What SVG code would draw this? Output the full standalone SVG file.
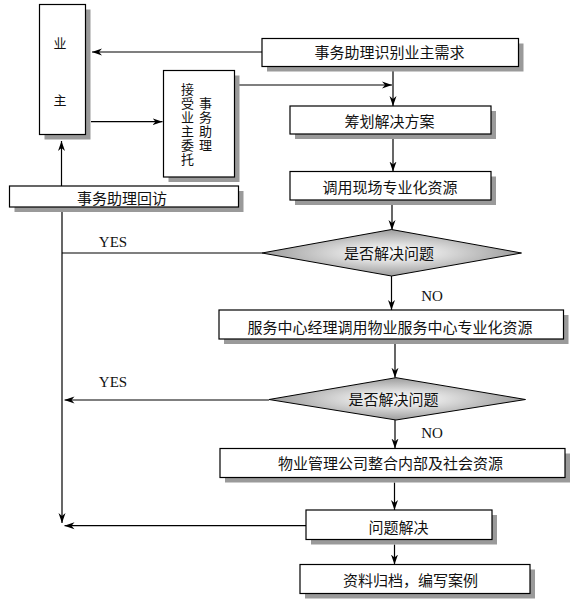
<svg xmlns="http://www.w3.org/2000/svg" width="577" height="609" viewBox="0 0 577 609">
<defs>
<marker id="arr" markerUnits="userSpaceOnUse" markerWidth="10" markerHeight="8" refX="10" refY="4" orient="auto">
<path d="M0,0.5 L10,4 L0,7.5 L3,4 Z" fill="#000"/>
</marker>
<radialGradient id="dg" cx="0.5" cy="0.5" r="0.5">
<stop offset="0" stop-color="#fbfbfb"/>
<stop offset="0.35" stop-color="#e2e2e2"/>
<stop offset="1" stop-color="#9c9c9c"/>
</radialGradient>
</defs>
<style>
.box{fill:#fff;stroke:#000;stroke-width:1.2}
.sh{fill:#9a9a9a}
.dia{fill:url(#dg);stroke:#000;stroke-width:1}
.t{font-family:"Noto Sans CJK SC","Noto Sans",sans-serif;font-size:15px;fill:#111;text-anchor:middle}
.tv{font-family:"Noto Sans CJK SC","Noto Sans",sans-serif;font-size:13px;fill:#111;text-anchor:middle}
.vert{writing-mode:vertical-rl;letter-spacing:1px}
.l{font-family:"Liberation Serif",serif;font-size:15px;fill:#111;text-anchor:middle}
.c{fill:none;stroke:#000;stroke-width:1.2}
</style>
<rect width="577" height="609" fill="#fff"/>

<g id="connectors">
<line class="c" x1="262" y1="52" x2="92" y2="52" marker-end="url(#arr)"/>
<line class="c" x1="91" y1="121.7" x2="162.5" y2="121.7" marker-end="url(#arr)"/>
<line class="c" x1="239" y1="85" x2="392" y2="85" marker-end="url(#arr)"/>
<line class="c" x1="393" y1="71" x2="393" y2="106" marker-end="url(#arr)"/>
<line class="c" x1="393" y1="139" x2="393" y2="171.5" marker-end="url(#arr)"/>
<line class="c" x1="392" y1="205" x2="392" y2="230" marker-end="url(#arr)"/>
<line class="c" x1="61.5" y1="186" x2="61.5" y2="141" marker-end="url(#arr)"/>
<line class="c" x1="62" y1="212" x2="62" y2="523" marker-end="url(#arr)"/>
<line class="c" x1="262" y1="253" x2="62" y2="253"/>
<line class="c" x1="391.5" y1="276" x2="391.5" y2="310" marker-end="url(#arr)"/>
<line class="c" x1="395" y1="344" x2="395" y2="377.7" marker-end="url(#arr)"/>
<line class="c" x1="269" y1="400" x2="64.5" y2="400" marker-end="url(#arr)"/>
<line class="c" x1="395" y1="420" x2="395" y2="448.5" marker-end="url(#arr)"/>
<line class="c" x1="394.5" y1="482.5" x2="394.5" y2="510" marker-end="url(#arr)"/>
<line class="c" x1="306" y1="525.7" x2="64.5" y2="525.7" marker-end="url(#arr)"/>
<line class="c" x1="394.5" y1="544.5" x2="394.5" y2="564.5" marker-end="url(#arr)"/>
</g>

<g id="n-owner">
<rect class="sh" x="44.5" y="9.5" width="46" height="130"/>
<rect class="box" x="39.5" y="4.5" width="46" height="130"/>
<text class="tv" x="60" y="47.5">业</text>
<text class="tv" x="60" y="105">主</text>
</g>

<g id="n-identify">
<rect class="sh" x="267" y="43.5" width="256.5" height="28"/>
<rect class="box" x="262" y="38.5" width="256.5" height="28"/>
<text class="t" x="389.5" y="58">事务助理识别业主需求</text>
</g>

<g id="n-accept">
<rect class="sh" x="168.5" y="75.5" width="71" height="106.5"/>
<rect class="box" x="163.5" y="70.5" width="71" height="106.5"/>
<text class="tv vert" x="187.5" y="125">接受业主委托</text>
<text class="tv vert" x="205.5" y="125">事务助理</text>
</g>

<g id="n-plan">
<rect class="sh" x="295" y="111" width="201" height="28"/>
<rect class="box" x="290" y="106" width="201" height="28"/>
<text class="t" x="389.5" y="127">筹划解决方案</text>
</g>

<g id="n-onsite">
<rect class="sh" x="295" y="176.5" width="201" height="28.5"/>
<rect class="box" x="290" y="171.5" width="201" height="28.5"/>
<text class="t" x="390" y="193">调用现场专业化资源</text>
</g>

<g id="n-revisit">
<rect class="sh" x="14.5" y="191" width="229" height="21"/>
<rect class="box" x="9.5" y="186" width="229" height="21"/>
<text class="t" x="122" y="203.5">事务助理回访</text>
</g>

<g id="n-decide1">
<polygon class="dia" points="262,253 391.5,229.5 521.5,253 391.5,276"/>
<text class="t" x="389" y="259">是否解决问题</text>
<text class="l" x="113" y="247">YES</text>
<text class="l" x="432" y="300.5">NO</text>
</g>

<g id="n-center">
<rect class="sh" x="224" y="315" width="344.5" height="29"/>
<rect class="box" x="219" y="310" width="344.5" height="29"/>
<text class="t" x="390" y="332.5">服务中心经理调用物业服务中心专业化资源</text>
</g>

<g id="n-decide2">
<polygon class="dia" points="269,399.5 396,377.7 525.5,399.5 396,420"/>
<text class="t" x="393.6" y="405">是否解决问题</text>
<text class="l" x="113" y="386.5">YES</text>
<text class="l" x="432" y="438">NO</text>
</g>

<g id="n-company">
<rect class="sh" x="225" y="453.5" width="345" height="29"/>
<rect class="box" x="220" y="448.5" width="345" height="29"/>
<text class="t" x="390.5" y="468.5">物业管理公司整合内部及社会资源</text>
</g>

<g id="n-solved">
<rect class="sh" x="311" y="515" width="186" height="29.5"/>
<rect class="box" x="306" y="510" width="186" height="29.5"/>
<text class="t" x="398.5" y="532.5">问题解决</text>
</g>

<g id="n-archive">
<rect class="sh" x="305" y="569.5" width="230" height="29"/>
<rect class="box" x="300" y="564.5" width="230" height="29"/>
<text class="t" x="410.5" y="585.5">资料归档，编写案例</text>
</g>
</svg>
